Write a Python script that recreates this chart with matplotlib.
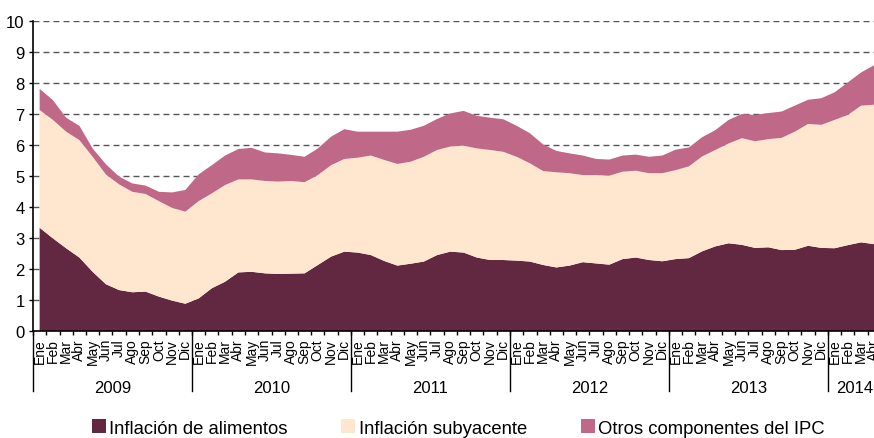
import matplotlib
matplotlib.use('Agg')
import matplotlib.pyplot as plt
import matplotlib.transforms as mtransforms
from matplotlib.patches import Patch
import numpy as np

plt.rcParams['font.family'] = ['Liberation Sans', 'DejaVu Sans']

# ---------------- data ----------------
month_names = ['Ene', 'Feb', 'Mar', 'Abr', 'May', 'Jun',
               'Jul', 'Ago', 'Sep', 'Oct', 'Nov', 'Dic']
years = ['2009', '2010', '2011', '2012', '2013', '2014']
months_per_year = [12, 12, 12, 12, 12, 4]
month_labels = [m for n in months_per_year for m in month_names[:n]]

series_names = ['Inflación de alimentos', 'Inflación subyacente',
                'Otros componentes del IPC']

food = [3.33, 2.99, 2.67, 2.37, 1.91, 1.51, 1.32, 1.25, 1.27, 1.11, 0.98, 0.88,
        1.05, 1.38, 1.59, 1.89, 1.91, 1.86, 1.84, 1.85, 1.86, 2.13, 2.40, 2.56,
        2.53, 2.45, 2.26, 2.11, 2.17, 2.24, 2.45, 2.56, 2.53, 2.37, 2.29, 2.29,
        2.27, 2.24, 2.13, 2.05, 2.11, 2.22, 2.18, 2.14, 2.32, 2.37, 2.29, 2.25,
        2.32, 2.35, 2.57, 2.73, 2.83, 2.78, 2.68, 2.70, 2.61, 2.62, 2.75, 2.68,
        2.67, 2.77, 2.86, 2.80]

core = [3.80, 3.82, 3.76, 3.79, 3.71, 3.54, 3.41, 3.24, 3.15, 3.08, 2.99, 2.97,
        3.14, 3.06, 3.12, 3.00, 2.98, 2.98, 2.98, 2.99, 2.94, 2.90, 2.95, 2.99,
        3.06, 3.21, 3.26, 3.28, 3.29, 3.38, 3.39, 3.39, 3.45, 3.52, 3.55, 3.49,
        3.35, 3.17, 3.03, 3.07, 2.98, 2.81, 2.85, 2.87, 2.82, 2.80, 2.80, 2.84,
        2.87, 2.96, 3.06, 3.11, 3.22, 3.44, 3.44, 3.49, 3.62, 3.81, 3.93, 3.97,
        4.14, 4.20, 4.41, 4.50]

other = [0.68, 0.64, 0.45, 0.46, 0.27, 0.33, 0.25, 0.27, 0.27, 0.30, 0.50, 0.70,
         0.86, 0.91, 0.95, 0.98, 1.02, 0.92, 0.91, 0.84, 0.82, 0.86, 0.92, 0.96,
         0.84, 0.77, 0.91, 1.04, 1.03, 1.00, 1.00, 1.07, 1.12, 1.05, 1.04, 1.05,
         1.00, 0.97, 0.86, 0.69, 0.64, 0.63, 0.52, 0.52, 0.52, 0.52, 0.53, 0.57,
         0.66, 0.61, 0.62, 0.64, 0.76, 0.78, 0.85, 0.84, 0.85, 0.84, 0.78, 0.86,
         0.89, 1.05, 1.07, 1.28]

colors = ['#622842', '#FEE7CE', '#C06888']

# ---------------- figure ----------------
W, H = 874, 439
fig = plt.figure(figsize=(W / 100, H / 100), dpi=100)
ax_left, ax_right, ax_top, ax_bottom = 33, 881, 22, 332
ax = fig.add_axes([ax_left / W, (H - ax_bottom) / H,
                   (ax_right - ax_left) / W, (ax_bottom - ax_top) / H])

x = np.arange(len(food))
ax.stackplot(x, food, core, other, colors=colors, linewidth=0, zorder=2)

ax.set_xlim(-0.5, len(food) - 0.5)
ax.set_ylim(0, 10)

# y axis
ax.set_yticks(range(0, 11))
ax.tick_params(axis='y', direction='out', length=3, width=1, labelsize=12,
               pad=3, colors='black')
ax.yaxis.grid(True, linestyle=(0, (4.3, 2.9)), color='#555555', linewidth=1,
              zorder=0)
ax.set_axisbelow(True)

# x axis: labels at month centres, ticks at month boundaries
ax.set_xticks(x)
ax.set_xticklabels(month_labels, rotation=90, fontsize=10)
ax.tick_params(axis='x', which='major', length=0, pad=5)
ax.set_xticks(np.arange(-0.5, len(food), 1), minor=True)
ax.tick_params(axis='x', which='minor', direction='out', length=3, width=1)

for s in ['top', 'right']:
    ax.spines[s].set_visible(False)
for s in ['left', 'bottom']:
    ax.spines[s].set_linewidth(1.2)
    ax.spines[s].set_color('black')

# year separators and labels
trans = mtransforms.blended_transform_factory(ax.transData, ax.transAxes)
sep_len = (392 - ax_bottom) / (ax_bottom - ax_top)
ylab = -(389 - ax_bottom) / (ax_bottom - ax_top)
start = -0.5
for yr, n in zip(years, months_per_year):
    ax.plot([start, start], [0, -sep_len], transform=trans, clip_on=False,
            color='black', linewidth=1)
    ax.text(start + n / 2, ylab, yr, transform=trans, ha='center',
            va='center', fontsize=12)
    start += n

# legend
handles = [Patch(facecolor=c, edgecolor='none') for c in colors]
fig.legend(handles, series_names, loc='center',
           bbox_to_anchor=(0.5245, 10 / H), ncol=3, frameon=False,
           fontsize=13.3, handlelength=0.75, handleheight=0.75,
           handletextpad=0.2, columnspacing=2.9, borderaxespad=0,
           borderpad=0)

fig.savefig('out.png', dpi=100)
